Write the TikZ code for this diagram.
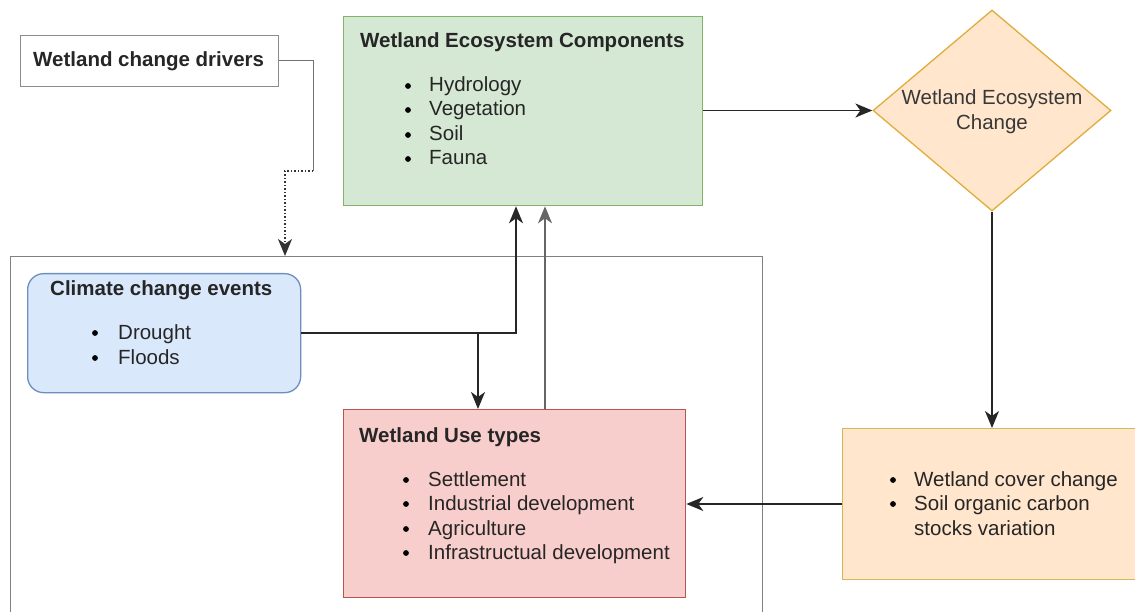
\documentclass[tikz,border=0pt]{standalone}
\usepackage{fontspec}
\setmainfont{Liberation Sans}
\usetikzlibrary{arrows.meta,shapes.geometric}
\definecolor{gfill}{HTML}{D5E8D4}\definecolor{gline}{HTML}{82B366}
\definecolor{bfill}{HTML}{DAE8FC}\definecolor{bline}{HTML}{6C8EBF}
\definecolor{rfill}{HTML}{F8CECC}\definecolor{rline}{HTML}{B85450}
\definecolor{ofill}{HTML}{FFE6CC}\definecolor{oline}{HTML}{D6B656}
\definecolor{dline}{HTML}{E0AC3C}
\definecolor{txt}{HTML}{262626}
\definecolor{frameline}{HTML}{808080}
\tikzset{
  box/.style={draw, line width=1.3pt, anchor=north west, inner sep=0pt},
  title/.style={anchor=base west, inner sep=0pt, font=\fontsize{20.5}{24.6}\selectfont\bfseries, text=txt},
  item/.style={anchor=base west, inner sep=0pt, font=\fontsize{20.5}{24.6}\selectfont, text=txt},
  tip/.style={-{Stealth[length=17pt,width=14pt,inset=5pt]}},
  conn/.style={line width=1.5pt, draw=black!85, tip},
}
\newcommand{\bul}[2]{\fill[black] (#1,#2-6) circle (2.9);}
\begin{document}
\begin{tikzpicture}[x=1pt,y=-1pt]
\useasboundingbox (0,0) rectangle (1135,612);
% outer frame
\node[draw=frameline, line width=1pt, anchor=north west, minimum width=752pt, minimum height=420pt, inner sep=0pt] (frame) at (10,256) {};
% boxes
\node[box, draw=black!45, line width=1pt, minimum width=258pt, minimum height=51pt] (drv) at (20,35) {};
\node[box, fill=gfill, draw=gline, minimum width=359pt, minimum height=189pt] (green) at (343,16) {};
\node[draw=dline, fill=ofill, line width=1.3pt, diamond, minimum width=238pt, minimum height=201pt, inner sep=0pt, aspect=1.18] (dia) at (992,110.5) {};
\node[box, fill=bfill, draw=bline, rounded corners=16pt, minimum width=273pt, minimum height=119pt] (clim) at (27,273) {};
\node[box, fill=rfill, draw=rline, minimum width=342pt, minimum height=188pt] (red) at (343,409) {};
\node[box, fill=ofill, draw=oline, minimum width=300pt, minimum height=151pt] (orange) at (842,428) {};
% texts
\node[title] (tdrv) at (33,67) {Wetland change drivers};
\node[title] (tgreen) at (360,48) {Wetland Ecosystem Components};
\bul{408}{92}\node[item] (g1) at (429,92) {Hydrology};
\bul{408}{116}\node[item] (g2) at (429,116) {Vegetation};
\bul{408}{141}\node[item] (g3) at (429,141) {Soil};
\bul{408}{165}\node[item] (g4) at (429,165) {Fauna};
\node[anchor=base, inner sep=0pt, font=\fontsize{20.5}{24.6}\selectfont, text=black!78] (td1) at (992,105) {Wetland Ecosystem};
\node[anchor=base, inner sep=0pt, font=\fontsize{20.5}{24.6}\selectfont, text=black!78] (td2) at (992,130) {Change};
\node[title] (tclim) at (50,295) {Climate change events};
\bul{95}{339}\node[item] (c1) at (118,339) {Drought};
\bul{95}{364}\node[item] (c2) at (118,364) {Floods};
\node[title] (tred) at (359,442) {Wetland Use types};
\bul{406}{486}\node[item] (r1) at (428,486) {Settlement};
\bul{406}{510}\node[item] (r2) at (428,510) {Industrial development};
\bul{406}{535}\node[item] (r3) at (428,535) {Agriculture};
\bul{406}{559}\node[item] (r4) at (428,559) {Infrastructual development};
\bul{893}{486}\node[item] (o1) at (914,486) {Wetland cover change};
\bul{893}{510}\node[item] (o2) at (914,510) {Soil organic carbon};
\node[item] (o3) at (914,535) {stocks variation};
% connectors
\coordinate (b1) at (313,61);
\coordinate (b2) at (313,171);
\coordinate (b3) at (285,171);
\draw[line width=1pt, draw=black!55] (drv.east |- b1) -- (b1) -- (b2);
\draw[line width=1.5pt, draw=black!80, dotted, tip] (b2) -- (b3) -- (b3 |- frame.north);
\coordinate (j1) at (516,0);
\coordinate (j2) at (478,0);
\draw[conn] (clim.east) -- (clim.east -| j1) -- (j1 |- green.south);
\draw[conn] (clim.east -| j2) -- (j2 |- red.north);
\draw[conn, draw=black!60, line width=1.7pt] (red.north -| 545,0) -- (green.south -| 545,0);
\draw[conn] (green.east |- dia.west) -- (dia.west);
\draw[conn] (dia.south) -- (dia.south |- orange.north);
\draw[conn] (orange.west |- 0,504) -- (red.east |- 0,504);
\end{tikzpicture}
\end{document}
